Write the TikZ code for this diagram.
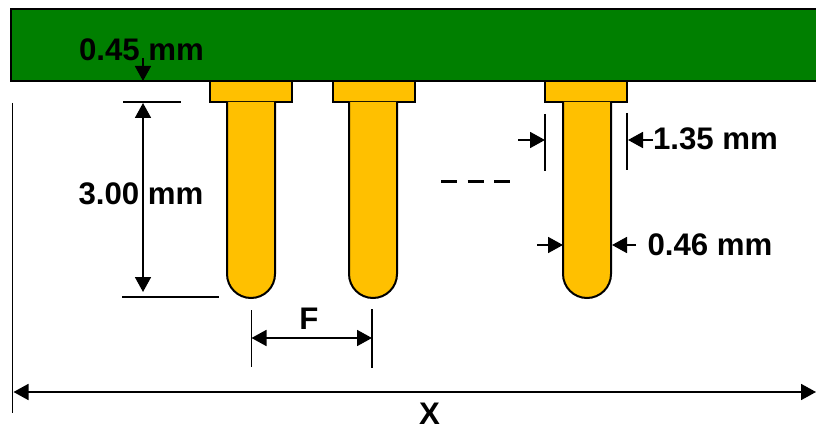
\documentclass[tikz,border=0pt]{standalone}
\usepackage{fontspec}
\setmainfont{Liberation Sans}
\usetikzlibrary{arrows.meta}

\begin{document}
\begin{tikzpicture}[
    x=1pt, y=-1pt,
    board/.style={draw=black, line width=2pt, fill=boardgreen},
    metal/.style={draw=black, line width=2pt, fill=pingold},
    guide/.style={draw=black, line width=1.8pt},
    dim/.style={draw=black, line width=1.8pt, -{Triangle[length=15pt, width=16pt]}},
    dimboth/.style={draw=black, line width=1.8pt, {Triangle[length=15pt, width=16pt]}-{Triangle[length=15pt, width=16pt]}},
    label/.style={inner sep=0pt, font=\bfseries\fontsize{31.2}{31.2}\selectfont}
]
    \definecolor{boardgreen}{HTML}{007F00}
    \definecolor{pingold}{HTML}{FFC000}
    \useasboundingbox (0,0) rectangle (816,430);
    \clip (0,0) rectangle (816,430);

    \draw[board] (10.5,9.5) rectangle (830,81);
    \foreach \px/\fx in {251/251, 373/373.5, 587/586} {
        \draw[metal] (\fx-41,81) rectangle (\fx+41,102);
        \draw[metal] (\px-24,102) -- (\px-24,274) arc[start angle=180, end angle=360, x radius=24, y radius=-24] -- (\px+24,102);
    }
    \draw[line width=3.5pt, dash pattern=on 16pt off 10.5pt] (441,181.5) -- (510,181.5);

    \coordinate (boardtop) at (143,58);
    \coordinate (boardbot) at (143,81);
    \coordinate (lentop) at (143,103);
    \coordinate (lenbot) at (143,292);
    \coordinate (xleft) at (13.5,392);
    \coordinate (xright) at (816,392);
    \coordinate (fleft) at (251.5,338);
    \coordinate (fright) at (372,338);
    \coordinate (headl) at (518,140);
    \coordinate (headlend) at (545,140);
    \coordinate (headr) at (653,140);
    \coordinate (headrend) at (628,140);
    \coordinate (shankl) at (537,245);
    \coordinate (shanklend) at (563,245);
    \coordinate (shankr) at (636,245);
    \coordinate (shankrend) at (612,245);

    \draw[guide] (123,102) -- (181,102);
    \draw[guide] (122,297) -- (219,297);
    \draw[guide] (12.5,103) -- (12.5,413);
    \draw[guide] (251.5,310) -- (251.5,367);
    \draw[guide] (372,309) -- (372,368);
    \draw[guide] (545,114) -- (545,171);
    \draw[guide] (627,113) -- (627,170);

    \draw[dim] (boardtop) -- (boardbot);
    \draw[dimboth] (lentop) -- (lenbot);
    \draw[dimboth] (xleft) -- (xright);
    \draw[dimboth] (fleft) -- (fright);
    \draw[dim] (headl) -- (headlend);
    \draw[dim] (headr) -- (headrend);
    \draw[dim] (shankl) -- (shanklend);
    \draw[dim] (shankr) -- (shankrend);

    \node[label] (thick) at (141.5,49.5) {0.45 mm};
    \node[label] (length) at (141,194) {3.00 mm};
    \node[label] (head) at (715.5,138.5) {1.35 mm};
    \node[label] (shank) at (710,245) {0.46 mm};
    \node[label] (pitch) at (309,319) {F};
    \node[label] (total) at (429.5,414) {X};
\end{tikzpicture}
\end{document}
